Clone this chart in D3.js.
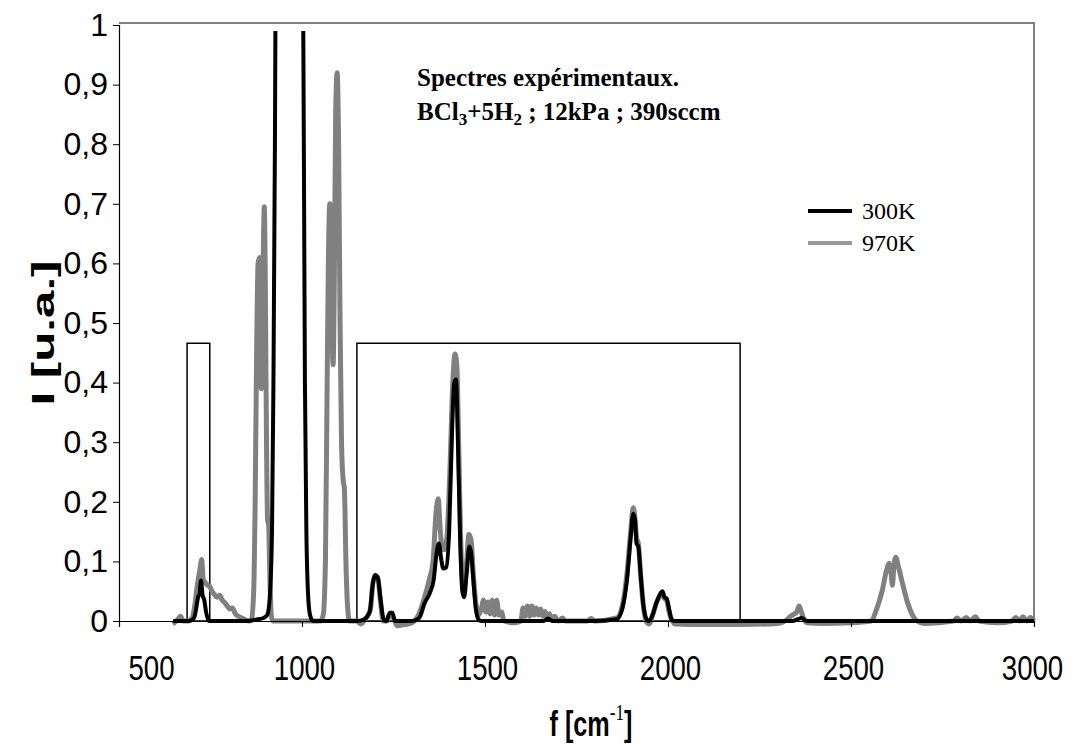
<!DOCTYPE html>
<html><head><meta charset="utf-8">
<script src="https://cdn.jsdelivr.net/npm/d3@7"></script>
<style>body{margin:0;background:#fff}svg{display:block}</style>
</head><body>
<svg id="c" width="1073" height="749"></svg>
<script>
// ---- data ----
const xTicks = [500, 1000, 1500, 2000, 2500, 3000];
const yTicks = [0, 0.1, 0.2, 0.3, 0.4, 0.5, 0.6, 0.7, 0.8, 0.9, 1];
const seriesNames = ["300K", "970K"];
const boxStart = [686, 1150];
const boxEnd = [748, 2197];
const boxTop = [0.466, 0.466];

const freq300 = [648,690,705,712,716,720,724,728,733,738,746,760,800,850,880,895,905,912,918,922,926,930,1000,1005,1008,1012,1017,1022,1030,1100,1150,1170,1185,1193,1200,1207,1214,1222,1230,1240,1247,1254,1270,1300,1320,1335,1350,1360,1367,1374,1380,1386,1394,1402,1410,1416,1421,1426,1432,1438,1443,1450,1457,1462,1468,1475,1482,1490,1600,1660,1672,1685,1800,1860,1875,1888,1898,1905,1910,1914,1919,1925,1932,1940,1948,1958,1968,1978,1985,1990,1996,2003,2010,2020,2300,2340,2355,2365,2380,3000];
const int300 = [0,0,0.005,0.025,0.04,0.045,0.068,0.045,0.035,0.015,0,0,0,0,0.003,0.005,0.01,0.04,0.15,0.4,0.8,1.3,1.3,0.8,0.4,0.15,0.04,0.01,0,0,0,0.003,0.015,0.06,0.077,0.073,0.04,0.005,0,0.014,0.014,0,0,0,0.005,0.03,0.048,0.07,0.11,0.13,0.105,0.088,0.09,0.15,0.32,0.4,0.405,0.3,0.14,0.05,0.04,0.08,0.125,0.115,0.07,0.02,0.003,0,0,0,0.004,0,0,0.003,0.02,0.07,0.14,0.18,0.17,0.13,0.125,0.08,0.03,0.005,0,0.01,0.03,0.045,0.05,0.04,0.038,0.02,0.002,0,0,0,0.003,0.005,0,0];

const freq970 = [647,660,668,675,690,700,708,714,718,722,726,730,735,742,748,754,760,768,775,782,790,796,803,810,818,826,835,845,855,862,868,872,876,880,884,887,889,891,894,897,900,903,906,909,912,916,920,1000,1050,1058,1064,1068,1072,1076,1079,1082,1085,1088,1092,1096,1100,1104,1108,1112,1116,1120,1125,1130,1150,1160,1175,1187,1194,1200,1207,1214,1222,1232,1242,1250,1260,1280,1300,1318,1335,1348,1358,1366,1372,1378,1384,1390,1396,1404,1412,1418,1423,1428,1433,1438,1443,1450,1456,1462,1468,1475,1482,1490,1496,1502,1508,1514,1520,1526,1532,1538,1545,1552,1580,1598,1604,1610,1616,1622,1628,1634,1640,1646,1652,1658,1664,1670,1676,1682,1690,1700,1712,1720,1780,1790,1800,1860,1875,1888,1898,1905,1910,1914,1919,1925,1932,1940,1948,1958,1968,1978,1985,1990,1996,2003,2012,2020,2100,2200,2300,2320,2335,2345,2352,2358,2363,2370,2380,2420,2500,2555,2570,2585,2597,2604,2609,2613,2617,2622,2630,2642,2655,2668,2680,2700,2780,2790,2800,2815,2825,2840,2850,2900,2940,2950,2960,2970,2980,2990,3000];
const int970 = [-0.005,0.002,0.008,0,0,0.005,0.03,0.06,0.075,0.09,0.103,0.07,0.065,0.06,0.058,0.05,0.045,0.04,0.043,0.035,0.03,0.025,0.02,0.022,0.012,0.008,0.005,0.002,0,0.003,0.05,0.2,0.45,0.6,0.61,0.5,0.39,0.42,0.6,0.695,0.55,0.3,0.17,0.16,0.08,0.01,0,0,0,0.01,0.1,0.35,0.6,0.7,0.69,0.5,0.43,0.55,0.85,0.92,0.8,0.5,0.3,0.24,0.22,0.1,0.02,0,0,-0.005,0.005,0.02,0.065,0.075,0.073,0.035,0,0,0.012,0.005,-0.008,-0.006,-0.003,0.01,0.04,0.07,0.1,0.18,0.205,0.15,0.12,0.12,0.14,0.25,0.4,0.448,0.43,0.3,0.15,0.07,0.06,0.1,0.145,0.135,0.08,0.03,0.01,0.02,0.035,0.015,0.032,0.012,0.035,0.01,0.035,0.01,0.015,0,-0.003,0,0.022,0.008,0.025,0.008,0.025,0.01,0.022,0.01,0.02,0.008,0.016,0.006,0.012,0.003,0.008,0,0.005,0,0,0.004,0,0.005,0.025,0.08,0.15,0.19,0.17,0.14,0.13,0.08,0.03,0,-0.005,0.01,0.03,0.042,0.048,0.038,0.035,0.015,0,-0.005,-0.006,-0.006,-0.004,0,0.008,0.012,0.015,0.025,0.018,0.005,-0.003,-0.004,-0.003,0,0.02,0.05,0.085,0.097,0.085,0.06,0.09,0.107,0.09,0.06,0.03,0.01,0,-0.004,0,0.005,0,0.006,0,0.007,0,-0.003,0,0.006,0,0.007,0,0.006,0];

// ---- layout ----
const L = 119, R = 1034, T = 25, B = 621;
const svg = d3.select("#c");
const x = d3.scaleLinear().domain([500, 3000]).range([L, R]);
const y = d3.scaleLinear().domain([0, 1]).range([B, T]);

svg.append("defs").append("clipPath").attr("id","clip")
  .append("rect").attr("x", L).attr("y", y(0.99)).attr("width", R - L + 6).attr("height", B - y(0.99) + 20);

// plot border (top & right, gray)
svg.append("path").attr("d", `M${L},${T - 2}H${R}V${B}`).attr("fill","none").attr("stroke","#808080").attr("stroke-width",2);

// boxes
svg.selectAll("rect.box").data(boxStart).join("rect").attr("class","box")
  .attr("x", (d,i)=>x(d)).attr("y",(d,i)=>y(boxTop[i]))
  .attr("width",(d,i)=>x(boxEnd[i])-x(d)).attr("height",(d,i)=>y(0)-y(boxTop[i]))
  .attr("fill","none").attr("stroke","#000").attr("stroke-width",1.5);

const line = d3.line().x(d=>x(d[0])).y(d=>y(d[1])).curve(d3.curveMonotoneX);
const g = svg.append("g").attr("clip-path","url(#clip)");
g.append("path").datum(freq970.map((f,i)=>[f,int970[i]])).attr("d",line)
  .attr("fill","none").attr("stroke","#808080").attr("stroke-width",5).attr("stroke-linejoin","round");
// axes
const yAxis = svg.append("g").attr("transform",`translate(${L},0)`)
  .call(d3.axisLeft(y).tickValues(yTicks).tickSize(6).tickFormat(d=>d3.format(".1~f")(d).replace(".",",")));
yAxis.select(".domain").attr("stroke","#000").attr("stroke-width",1.2);
yAxis.selectAll("text").attr("font-family","Liberation Sans, Arial, sans-serif").attr("font-size",32).attr("fill","#000").attr("x",-11);
const xAxis = svg.append("g").attr("transform",`translate(0,${B})`)
  .call(d3.axisBottom(x).tickValues(xTicks).tickSize(6).tickFormat(d3.format("d")));
xAxis.select(".domain").attr("stroke","#000").attr("stroke-width",1.2);
xAxis.selectAll("text").attr("font-family","Liberation Sans, Arial, sans-serif").attr("font-size",35).attr("fill","#000")
  .attr("y",34).attr("dy","0.71em")
  .attr("transform",(d,i)=> (i===0 ? "translate(32,0)" : (d===3000 ? "translate(-2,0)" : "translate(2,0)")) + " scale(0.79,1)");

g.append("path").datum(freq300.map((f,i)=>[f,int300[i]])).attr("d",line)
  .attr("fill","none").attr("stroke","#000").attr("stroke-width",4).attr("stroke-linejoin","round");

// axis titles
svg.append("text").attr("transform","translate(54,333) rotate(-90)").attr("text-anchor","middle")
  .attr("font-family","Liberation Sans, Arial, sans-serif").attr("font-weight","bold").attr("font-size",31)
  .attr("textLength",145).attr("lengthAdjust","spacingAndGlyphs")
  .text("I [u.a.]");
const xt = svg.append("text").attr("transform","translate(591,736) scale(0.72,1)").attr("text-anchor","middle")
  .attr("font-family","Liberation Sans, Arial, sans-serif").attr("font-weight","bold").attr("font-size",35);
xt.append("tspan").text("f [cm");
xt.append("tspan").attr("font-family","Liberation Serif, serif").attr("font-weight","normal").attr("font-size",24).attr("dy",-16).text("-1");
xt.append("tspan").attr("dy",16).text("]");

// annotation
const ann = svg.append("text").attr("font-family","Liberation Serif, Times New Roman, serif").attr("font-weight","bold").attr("font-size",25);
ann.append("tspan").attr("x",417).attr("y",86).text("Spectres expérimentaux.");
const a2 = svg.append("text").attr("font-family","Liberation Serif, Times New Roman, serif").attr("font-weight","bold").attr("font-size",25).attr("x",417).attr("y",120);
a2.append("tspan").text("BCl");
a2.append("tspan").attr("font-size",17).attr("dy",5).text("3");
a2.append("tspan").attr("dy",-5).text("+5H");
a2.append("tspan").attr("font-size",17).attr("dy",5).text("2");
a2.append("tspan").attr("dy",-5).text(" ; 12kPa ; 390sccm");

// legend
const legColors = ["#000", "#999"];
const leg = svg.selectAll("g.leg").data(seriesNames).join("g").attr("class","leg")
  .attr("transform",(d,i)=>`translate(808,${211 + i*32})`);
leg.append("line").attr("x1",0).attr("x2",44).attr("y1",0).attr("y2",0)
  .attr("stroke",(d,i)=>legColors[i]).attr("stroke-width",4);
leg.append("text").attr("x",54).attr("y",8).attr("font-family","Liberation Serif, Times New Roman, serif").attr("font-size",24).text(d=>d);
</script>
</body></html>
